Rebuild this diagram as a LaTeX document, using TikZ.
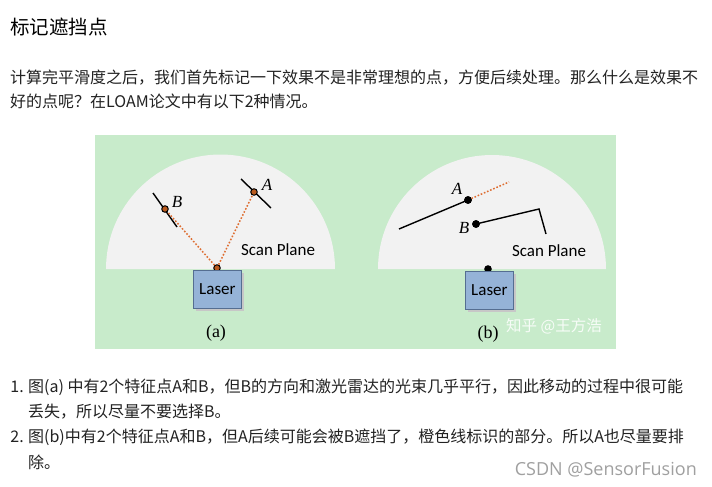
\documentclass[tikz,border=0pt]{standalone}
\usepackage{fontspec}
\newfontfamily\cjk{Noto Sans CJK SC}
\newfontfamily\calfont{Carlito}
\newfontfamily\tnrfont{Liberation Serif}
\newfontfamily\wmfont{Open Sans}
\definecolor{panelgreen}{RGB}{200,235,203}
\definecolor{planegray}{RGB}{242,242,242}
\definecolor{laserfill}{RGB}{149,179,215}
\definecolor{laserdraw}{RGB}{85,110,145}
\definecolor{beam}{RGB}{222,110,50}
\definecolor{dotfill}{RGB}{185,90,30}
\definecolor{bodytext}{RGB}{34,34,34}
\definecolor{wmgray}{RGB}{160,160,160}
\tikzset{
  txt/.style={anchor=west, inner sep=0pt, text=bodytext, font=\cjk\fontsize{16}{16}\selectfont},
  plane/.style={fill=planegray, draw=none},
  laserbox/.style={fill=laserfill, draw=laserdraw, line width=0.8pt, minimum width=48pt, minimum height=38pt, inner sep=0pt, font=\calfont\fontsize{17}{17}\selectfont, anchor=north west},
  shadowbox/.style={fill=black!22, draw=none, minimum width=48pt, minimum height=38pt, inner sep=0pt, anchor=north west},
  surf/.style={line width=1.4pt, black},
  beamline/.style={line width=1.5pt, beam, dash pattern=on 1.6pt off 1.8pt},
  pt/.style={circle, fill=#1, draw=black, line width=1pt, minimum size=6.5pt, inner sep=0pt},
  ptlabel/.style={inner sep=0pt, font=\tnrfont\itshape\fontsize{17}{17}\selectfont},
  scanlabel/.style={inner sep=0pt, font=\calfont\fontsize{17}{17}\selectfont},
  caplabel/.style={inner sep=0pt, font=\tnrfont\fontsize{18}{18}\selectfont},
}
\begin{document}
\begin{tikzpicture}[x=1pt,y=-1pt]
\path[use as bounding box, fill=white] (0,0) rectangle (712,487);

% title and paragraph
\node[txt, text=black, font=\cjk\fontsize{19.5}{19.5}\selectfont] (title) at (10,27) {标记遮挡点};
\node[txt] (p1) at (10,78) {计算完平滑度之后，我们首先标记一下效果不是非常理想的点，方便后续处理。那么什么是效果不};
\node[txt] (p2) at (10,101) {好的点呢？在LOAM论文中有以下2种情况。};

% green panel
\fill[panelgreen] (95,135) rectangle (616,349);

% ---------- panel (a)
\fill[plane] (106,269) arc[start angle=180, end angle=360, radius=114.5] -- cycle;
\coordinate (b1) at (153,193);
\coordinate (b2) at (177,227);
\coordinate (a1) at (241,179);
\coordinate (a2) at (271,208);
\draw[surf] (b1) -- (b2);
\draw[surf] (a1) -- (a2);
\node[pt=dotfill] (la) at (217,268) {};
\node[pt=dotfill] (pb) at (165,209) {};
\node[pt=dotfill] (pa) at (254,192) {};
\draw[beamline] (la) -- (pb);
\draw[beamline] (la) -- (pa);
\node[shadowbox] at (196,273) {};
\node[laserbox] (boxa) at (193,270) {Laser};
\node[ptlabel] (lb) at (177,202) {B};
\node[ptlabel] (lA) at (267,185) {A};
\node[scanlabel] (spa) at (278,250) {Scan Plane};
\node[caplabel] (capa) at (216,333) {(a)};

% ---------- panel (b)
\fill[plane] (378,269) arc[start angle=180, end angle=360, radius=114] -- cycle;
\node[pt=black] (lb2) at (488,269) {};
\node[shadowbox] at (468,274) {};
\node[laserbox] (boxb) at (465,271) {Laser};
\coordinate (s1) at (399,229);
\coordinate (o1) at (509,182);
\coordinate (c1) at (539,209);
\coordinate (c2) at (546,234);
\node[pt=black] (pA) at (468,200) {};
\node[pt=black] (pB) at (476,224) {};
\draw[surf] (s1) -- (pA.center);
\draw[beamline] (pA) -- (o1);
\draw[surf] (pB.center) -- (c1) -- (c2);
\node[pt=black] at (468,200) {};
\node[pt=black] at (476,224) {};
\node[ptlabel] (lA2) at (457,189) {A};
\node[ptlabel] (lB2) at (464,228) {B};
\node[scanlabel] (spb) at (549,251) {Scan Plane};
\node[caplabel] (capb) at (488,334) {(b)};
\node[inner sep=0pt, text=white, opacity=0.85, font=\cjk\fontsize{15.5}{15.5}\selectfont] (wm) at (554,326) {知乎 @王方浩};

% list
\node[txt, anchor=east] (n1) at (24,387) {1.};
\node[txt] (l1) at (28,387) {图(a) 中有2个特征点A和B，但B的方向和激光雷达的光束几乎平行，因此移动的过程中很可能};
\node[txt] (l2) at (28,412) {丢失，所以尽量不要选择B。};
\node[txt, anchor=east] (n2) at (24,437) {2.};
\node[txt] (l3) at (28,437) {图(b)中有2个特征点A和B，但A后续可能会被B遮挡了，橙色线标识的部分。所以A也尽量要排};
\node[txt] (l4) at (28,462) {除。};

% watermark
\node[anchor=east, inner sep=0pt, text=wmgray, font=\wmfont\fontsize{18}{18}\selectfont] (csdn) at (697,470) {CSDN @SensorFusion};
\end{tikzpicture}
\end{document}
